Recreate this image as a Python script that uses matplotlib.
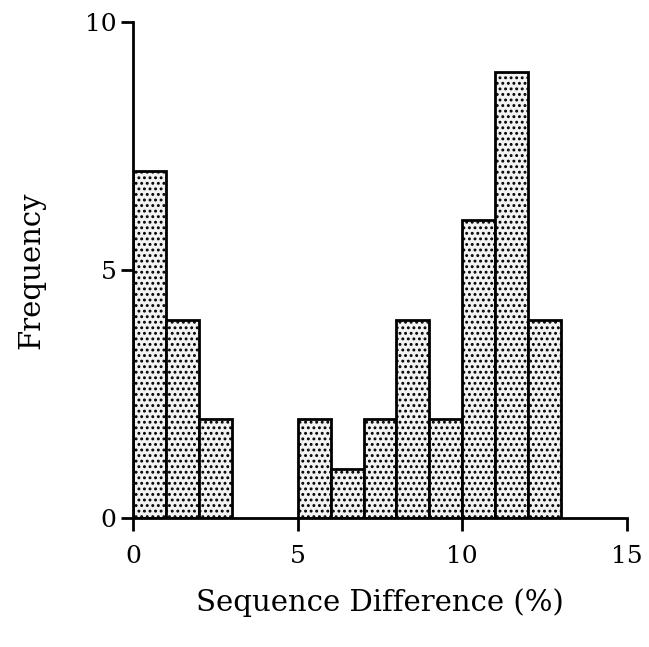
import matplotlib
matplotlib.use("Agg")
import matplotlib.pyplot as plt

bin_left = [0, 1, 2, 3, 4, 5, 6, 7, 8, 9, 10, 11, 12]
frequency = [7, 4, 2, 0, 0, 2, 1, 2, 4, 2, 6, 9, 4]
x_ticks = [0, 5, 10, 15]
y_ticks = [0, 5, 10]

plt.rcParams['font.family'] = ['DejaVu Serif']
plt.rcParams['hatch.linewidth'] = 1.3
plt.rcParams['hatch.color'] = '#222222'

fig = plt.figure(figsize=(6.49, 6.47), dpi=100)
ax = fig.add_axes([0.205, 0.199, 0.761, 0.767])

for x0, f in zip(bin_left, frequency):
    if f > 0:
        ax.bar(x0, f, width=1, align='edge', facecolor='#f2f2f2', edgecolor='black',
               linewidth=2, hatch='...', zorder=2)

ax.set_xlim(0, 15)
ax.set_ylim(0, 10)
ax.set_xticks(x_ticks)
ax.set_yticks(y_ticks)
for s in ['top', 'right']:
    ax.spines[s].set_visible(False)
for s in ['left', 'bottom']:
    ax.spines[s].set_linewidth(2)
ax.tick_params(axis='both', direction='out', length=9, width=2, labelsize=18)
ax.tick_params(axis='x', pad=10)
ax.tick_params(axis='y', pad=3)
ax.set_xlabel('Sequence Difference (%)', fontsize=21, labelpad=15)
ax.set_ylabel('Frequency', fontsize=21, labelpad=28)

fig.savefig('out.png', dpi=100)
